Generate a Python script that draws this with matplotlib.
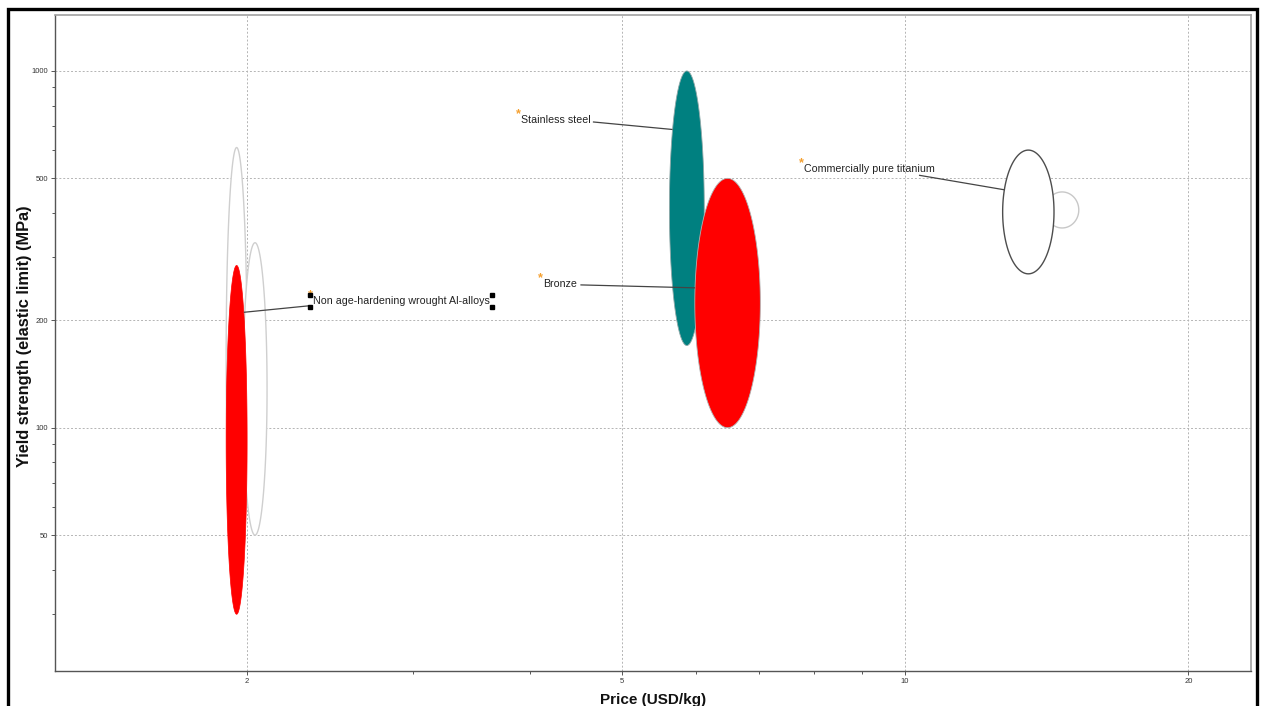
import numpy as np
import matplotlib
matplotlib.use("Agg")
import matplotlib.pyplot as plt
from matplotlib.patches import Rectangle
from matplotlib.text import Text
from matplotlib.ticker import FixedLocator, LogLocator, NullFormatter, FixedFormatter

plt.rcParams['font.family'] = ['Liberation Sans', 'DejaVu Sans']

# Material property ranges: price (USD/kg) and yield strength (MPa)
materials = ["Al grade (a)", "Al grade (b)", "Non age-hardening wrought Al-alloys",
             "Ti grade", "Commercially pure titanium", "Stainless steel", "Bronze"]
price_lo = [1.90, 1.98, 1.90, 14.1, 12.7, 5.62, 5.98]
price_hi = [2.00, 2.10, 2.00, 15.3, 14.4, 6.12, 7.02]
strength_lo = [40, 50, 30, 363, 270, 170, 100]
strength_hi = [610, 330, 285, 458, 600, 1000, 500]

face_colors = ["white", "white", "#ff0000", "white", "white", "#008080", "#ff0000"]
edge_colors = ["#cfcfcf", "#cfcfcf", "#ff0000", "#c8c8c8", "#4d4d4d", "#8fa8a8", "#b0b0b0"]
edge_widths = [1.0, 1.0, 0.5, 1.0, 1.0, 0.6, 0.6]

labelled = ["Non age-hardening wrought Al-alloys", "Stainless steel", "Bronze",
            "Commercially pure titanium"]

x_ticks = [2, 5, 10, 20]
y_ticks = [50, 100, 200, 500, 1000]

fig = plt.figure(figsize=(12.65, 7.06), dpi=100)
ax = fig.add_axes([55 / 1265, 1 - 671 / 706, (1250.7 - 55) / 1265, (671 - 15) / 706])
ax.set_xscale('log')
ax.set_yscale('log')
ax.set_xlim(1.25, 23.3)
ax.set_ylim(20.8, 1435)


def ellipse_params(i):
    cx = (np.log10(price_lo[i]) + np.log10(price_hi[i])) / 2
    rx = (np.log10(price_hi[i]) - np.log10(price_lo[i])) / 2
    cy = (np.log10(strength_lo[i]) + np.log10(strength_hi[i])) / 2
    ry = (np.log10(strength_hi[i]) - np.log10(strength_lo[i])) / 2
    return cx, rx, cy, ry


def ellipse_pts(i, n=400):
    cx, rx, cy, ry = ellipse_params(i)
    t = np.linspace(0, 2 * np.pi, n)
    return 10 ** (cx + rx * np.cos(t)), 10 ** (cy + ry * np.sin(t))


def edge_point(i, angle_deg):
    cx, rx, cy, ry = ellipse_params(i)
    t = np.deg2rad(angle_deg)
    return 10 ** (cx + rx * np.cos(t)), 10 ** (cy + ry * np.sin(t))


for i in range(len(materials)):
    xs, ys = ellipse_pts(i)
    ax.fill(xs, ys, facecolor=face_colors[i], edgecolor=edge_colors[i],
            linewidth=edge_widths[i], zorder=3 + i * 0.01)

# Grid and ticks
ax.xaxis.set_major_locator(FixedLocator(x_ticks))
ax.xaxis.set_major_formatter(FixedFormatter([str(v) for v in x_ticks]))
ax.xaxis.set_minor_locator(LogLocator(base=10, subs=np.arange(1, 10)))
ax.xaxis.set_minor_formatter(NullFormatter())
ax.yaxis.set_major_locator(FixedLocator(y_ticks))
ax.yaxis.set_major_formatter(FixedFormatter([str(v) for v in y_ticks]))
ax.yaxis.set_minor_locator(LogLocator(base=10, subs=np.arange(1, 10)))
ax.yaxis.set_minor_formatter(NullFormatter())
ax.grid(True, which='major', color='#b4b4b4', linestyle=(0, (2, 2)), linewidth=0.7, zorder=1)
ax.set_axisbelow(True)
ax.tick_params(which='both', direction='out', colors='#555555', labelcolor='#333333',
               labelsize=5.5, width=0.7)
ax.tick_params(which='major', length=3, pad=2)
ax.tick_params(which='minor', length=2.5)

for s in ['left', 'bottom']:
    ax.spines[s].set_color('#555555')
    ax.spines[s].set_linewidth(1.0)
for s in ['top', 'right']:
    ax.spines[s].set_color('#a0a0a0')
    ax.spines[s].set_linewidth(1.2)

ax.set_xlabel("Price (USD/kg)", fontsize=11, fontweight='bold', color='#111111', labelpad=6)
ax.set_ylabel("Yield strength (elastic limit) (MPa)", fontsize=11.8, fontweight='bold',
              color='#111111')
ax.yaxis.set_label_coords(-0.0195, 0.51)

# Labels with leader lines
label_text_pos = {
    "Non age-hardening wrought Al-alloys": (2.35, 227),
    "Stainless steel": (3.91, 729),
    "Bronze": (4.13, 253),
    "Commercially pure titanium": (7.81, 532),
}
label_edge_angle = {
    "Non age-hardening wrought Al-alloys": 47,
    "Stainless steel": 145,
    "Bronze": 173,
    "Commercially pure titanium": 159,
}
# Where the leader line leaves the text box (fraction of width, fraction of height)
label_anchor = {
    "Non age-hardening wrought Al-alloys": (0.0, 0.0),
    "Stainless steel": (1.0, 0.3),
    "Bronze": (1.0, 0.4),
    "Commercially pure titanium": (0.88, -0.15),
}
label_gap = {
    "Non age-hardening wrought Al-alloys": -3,
    "Stainless steel": 2,
    "Bronze": 3,
    "Commercially pure titanium": 0,
}

texts = {}
for name in labelled:
    tx, ty = label_text_pos[name]
    texts[name] = ax.text(tx, ty, name, ha='left', va='center', fontsize=7.7,
                          color='#222222', zorder=10)
    ax.annotate('*', xy=(tx, ty), xytext=(-2.0, 4.0), textcoords='offset points',
                ha='center', va='center', fontsize=9, fontweight='bold',
                color='#f5a030', zorder=11)

fig.canvas.draw()
inv = ax.transData.inverted()
for name in labelled:
    i = materials.index(name)
    bb = Text.get_window_extent(texts[name])
    fx, fy = label_anchor[name]
    sx = bb.x0 + fx * bb.width + label_gap[name]
    sy = bb.y0 + fy * bb.height
    start = inv.transform((sx, sy))
    end = edge_point(i, label_edge_angle[name])
    ax.plot([start[0], end[0]], [start[1], end[1]], color='#444444', lw=0.9,
            zorder=9, solid_capstyle='butt')

# Selection handles round the Al-alloys label
bb = Text.get_window_extent(texts["Non age-hardening wrought Al-alloys"])
corners = [(bb.x0 - 3, bb.y0 - 1), (bb.x0 - 3, bb.y1 + 1),
           (bb.x1 + 2, bb.y0 - 1), (bb.x1 + 2, bb.y1 + 1)]
for cxp, cyp in corners:
    dx, dy = inv.transform((cxp, cyp))
    ax.plot([dx], [dy], marker='s', markersize=2.2, color='black', zorder=12,
            clip_on=False)

# Outer frame
fig.add_artist(Rectangle((8 / 1265, -0.1), (1257 - 8) / 1265, 1 - 9 / 706 + 0.1,
                         transform=fig.transFigure, fill=False, edgecolor='black',
                         linewidth=2.4))

fig.savefig("out.png", dpi=100)
